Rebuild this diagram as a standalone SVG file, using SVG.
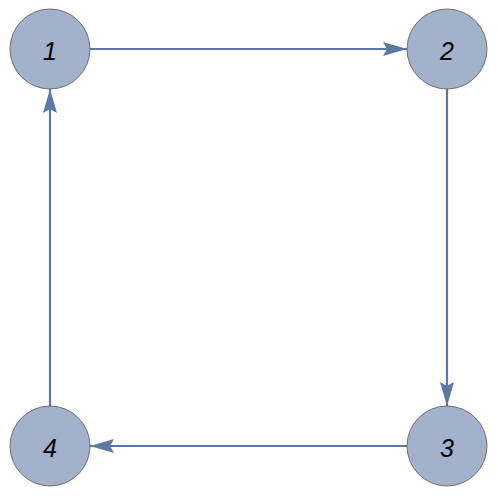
<svg xmlns="http://www.w3.org/2000/svg" width="498" height="496" viewBox="0 0 498 496">
<style>
.node circle{fill:#a3b1cb;stroke:#555;stroke-width:0.8}
.node text{font-family:"Liberation Sans",Arial,sans-serif;font-style:italic;font-size:25px;fill:#000;text-anchor:middle;dominant-baseline:central}
.edge{stroke:#5d78a5;stroke-width:2.2;fill:none}
</style>
<defs>
<marker id="arr" viewBox="0 0 24 14" refX="24" refY="7" markerWidth="24" markerHeight="14" markerUnits="userSpaceOnUse" orient="auto">
<path d="M0,0 L24,7 L0,14 L4,7 Z" fill="#5d78a5"/>
</marker>
</defs>
<g id="connectors">
<line class="edge" x1="90" y1="49" x2="407" y2="49" marker-end="url(#arr)"/>
<line class="edge" x1="447" y1="89" x2="447" y2="406" marker-end="url(#arr)"/>
<line class="edge" x1="407" y1="446" x2="90" y2="446" marker-end="url(#arr)"/>
<line class="edge" x1="50" y1="406" x2="50" y2="89" marker-end="url(#arr)"/>
</g>
<g id="node1" class="node"><circle cx="50" cy="49" r="40"/><text x="50" y="51">1</text></g>
<g id="node2" class="node"><circle cx="447" cy="49" r="40"/><text x="447" y="51">2</text></g>
<g id="node3" class="node"><circle cx="447" cy="446" r="40"/><text x="447" y="448">3</text></g>
<g id="node4" class="node"><circle cx="50" cy="446" r="40"/><text x="50" y="448">4</text></g>
</svg>
